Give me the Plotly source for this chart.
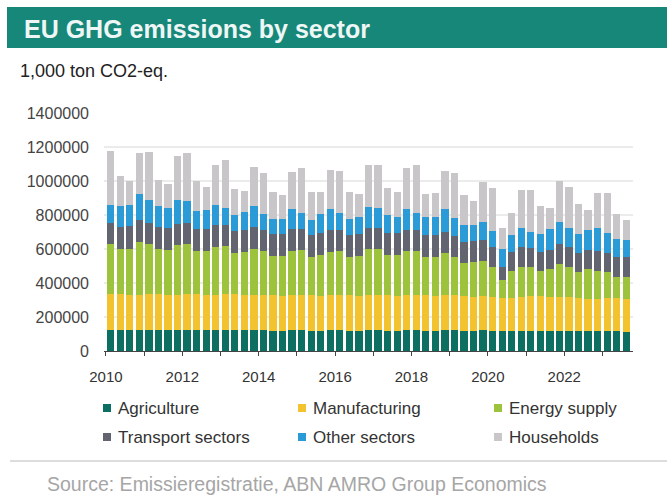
import plotly.graph_objects as go

# Quarterly EU greenhouse-gas emissions by sector, 1,000 ton CO2-eq.
quarters = [f"{y}Q{q}" for y in range(2010, 2024) for q in range(1, 5)][:55]

agriculture = [
    124000, 122000, 121000, 125000, 124000, 122000, 121000, 125000,
    124000, 122000, 121000, 125000, 124000, 122000, 121000, 125000,
    122000, 120000, 119000, 123000, 122000, 120000, 119000, 123000,
    122000, 120000, 119000, 123000, 122000, 120000, 119000, 123000,
    122000, 120000, 119000, 123000, 122000, 120000, 119000, 123000,
    118000, 116000, 116000, 120000, 119000, 117000, 116000, 120000,
    118000, 116000, 115000, 118000, 117000, 115000, 114000,
]
manufacturing = [
    210000, 212000, 208000, 206000, 210000, 212000, 208000, 206000,
    210000, 212000, 208000, 206000, 210000, 212000, 208000, 206000,
    208000, 210000, 206000, 204000, 208000, 210000, 206000, 204000,
    208000, 210000, 206000, 204000, 208000, 210000, 206000, 204000,
    208000, 210000, 206000, 204000, 206000, 204000, 200000, 200000,
    202000, 195000, 198000, 200000, 204000, 206000, 202000, 200000,
    198000, 196000, 192000, 190000, 192000, 194000, 190000,
]
energy_supply = [
    293500, 263900, 268900, 308400, 293500, 263900, 263000, 290600,
    293500, 252100, 257100, 278800, 281700, 240200, 251200, 266900,
    256100, 226500, 231500, 259100, 262000, 220600, 237400, 253200,
    256100, 220600, 231500, 270900, 267900, 232400, 237400, 259100,
    256100, 220600, 225600, 247200, 222600, 191000, 202000, 203900,
    171400, 109300, 153700, 171400, 168400, 144700, 161500, 189100,
    175400, 149800, 172500, 159700, 152800, 129100, 134100,
]
transport = [
    124300, 130300, 136200, 130200, 124300, 130300, 130200, 124300,
    124300, 130200, 130200, 130200, 124300, 130300, 130200, 130300,
    124300, 130200, 130200, 130200, 124300, 130200, 130200, 130200,
    124300, 130200, 130200, 124300, 124300, 130200, 130200, 124300,
    124300, 130200, 130200, 124400, 124300, 124400, 124300, 124300,
    118400, 71100, 112500, 118400, 112400, 112500, 112500, 118400,
    118400, 112400, 112500, 118400, 112400, 112500, 112500,
]
other_sectors = [
    109600, 124300, 127300, 153900, 136200, 124300, 118400, 142100,
    130300, 106600, 112500, 121400, 100600, 94700, 106600, 124300,
    94700, 88800, 88800, 118400, 94700, 88800, 112500, 124300,
    100600, 94700, 100700, 124400, 118400, 106600, 94800, 124300,
    100600, 106600, 106600, 136100, 106500, 100600, 97700, 106600,
    94700, 106500, 100600, 112400, 94800, 106500, 124300, 130300,
    112400, 112500, 118400, 136100, 118400, 106500, 100600,
]
households = [
    316700, 177600, 139100, 242700, 284200, 153900, 142100, 260500,
    284100, 177600, 136200, 233800, 284200, 153900, 124300, 230900,
    242700, 159900, 142100, 219100, 266400, 165800, 130300, 230900,
    248700, 159900, 136100, 248600, 254600, 159800, 148000, 242700,
    284200, 136100, 142000, 225000, 266400, 177600, 139100, 236800,
    254500, 124300, 130200, 225000, 248600, 165800, 124300, 242700,
    242800, 177600, 118400, 207200, 236800, 148000, 118400,
]

sectors = ["Agriculture", "Manufacturing", "Energy supply",
           "Transport sectors", "Other sectors", "Households"]
series = [agriculture, manufacturing, energy_supply,
          transport, other_sectors, households]
colors = ["#0d6f62", "#f3c32f", "#9dc23c", "#62646f", "#2a9bd6", "#c8c6c8"]

y_ticks = [0, 200000, 400000, 600000, 800000, 1000000, 1200000, 1400000]
x_years = list(range(2010, 2024))
x_labels = [str(y) if y % 2 == 0 else "" for y in x_years]

# bar centres sit in the middle of each quarter on a numeric year axis
x_pos = [int(q[:4]) + (int(q[-1]) - 0.5) / 4 for q in quarters]

# plot-area box in pixels, used to place the banner, legend and footer
L, R, T, B = 104, 633, 113, 351
W_PX, H_PX = 667, 495


def px(x):
    return (x - L) / (R - L)


def py(y):
    return (B - y) / (B - T)


FONT = "Liberation Sans, Arial, sans-serif"

fig = go.Figure()
for name, vals, col in zip(sectors, series, colors):
    fig.add_trace(go.Bar(
        x=x_pos, y=vals, name=name, marker=dict(color=col, line=dict(width=0)),
        width=0.25 * 0.76, showlegend=False,
    ))

shapes = [
    # title banner
    dict(type="rect", xref="paper", yref="paper", x0=px(7), x1=px(667),
         y0=py(48), y1=py(7), fillcolor="#17877a", line=dict(width=0), layer="below"),
    # footer rule
    dict(type="line", xref="paper", yref="paper", x0=px(10), x1=px(667),
         y0=py(461), y1=py(461), line=dict(color="#d2d2d2", width=1.5)),
]

annotations = [
    dict(text="<b>EU GHG emissions by sector</b>", xref="paper", yref="paper",
         x=px(22), y=py(29), xanchor="left", yanchor="middle", showarrow=False,
         font=dict(family=FONT, size=25, color="#eef7f5")),
    dict(text="1,000 ton CO2-eq.", xref="paper", yref="paper",
         x=px(18), y=py(71), xanchor="left", yanchor="middle", showarrow=False,
         font=dict(family=FONT, size=18, color="#222222")),
    dict(text="Source: Emissieregistratie, ABN AMRO Group Economics", xref="paper",
         yref="paper", x=px(45), y=py(484), xanchor="left", yanchor="middle",
         showarrow=False, font=dict(family=FONT, size=19.5, color="#a6a6a6")),
]

# legend: three columns, two rows
col_x = [103, 298, 494]
row_y = [408, 437]
for i, (name, col) in enumerate(zip(sectors, colors)):
    cx, cy = col_x[i % 3], row_y[i // 3]
    shapes.append(dict(type="rect", xref="paper", yref="paper",
                       x0=px(cx), x1=px(cx + 8), y0=py(cy + 4), y1=py(cy - 4),
                       fillcolor=col, line=dict(width=0)))
    annotations.append(dict(text=name, xref="paper", yref="paper",
                            x=px(cx + 13), y=py(cy), xanchor="left", yanchor="middle",
                            showarrow=False,
                            font=dict(family=FONT, size=17, color="#333333")))

fig.update_layout(
    width=W_PX, height=H_PX,
    margin=dict(l=L, r=W_PX - R, t=T, b=H_PX - B, pad=0),
    paper_bgcolor="white", plot_bgcolor="white",
    barmode="stack", bargap=0,
    shapes=shapes, annotations=annotations,
    font=dict(family=FONT, color="#333333"),
    xaxis=dict(
        range=[2009.95, 2023.8], tickmode="array", tickvals=x_years, ticktext=x_labels,
        ticks="outside", ticklen=4, tickcolor="#444444", tickwidth=1,
        showline=True, linecolor="#444444", linewidth=1, showgrid=False,
        zeroline=False, tickfont=dict(size=15, color="#333333"), ticklabelstandoff=8,
    ),
    yaxis=dict(
        range=[0, 1400000], tickmode="array", tickvals=y_ticks,
        ticktext=[str(v) for v in y_ticks], showgrid=True, gridcolor="#ebebeb",
        gridwidth=2, zeroline=False, showline=False, ticks="",
        tickfont=dict(size=16, color="#444444"), ticklabelstandoff=14,
    ),
)

fig.write_html("out.html")
